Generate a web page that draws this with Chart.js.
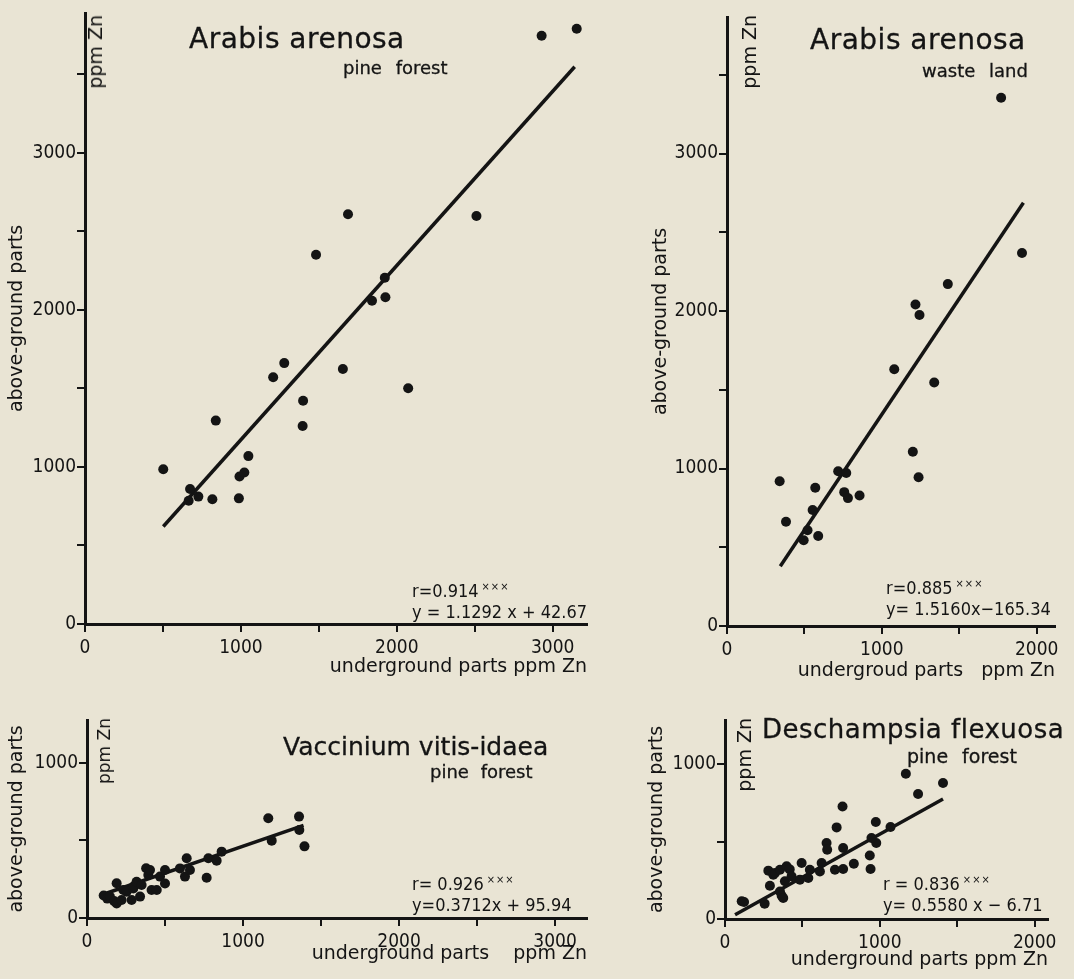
<!DOCTYPE html>
<html>
<head>
<meta charset="utf-8">
<script src="https://cdn.jsdelivr.net/npm/chart.js@4.4.0/dist/chart.umd.min.js"></script>
<style>
  body { margin:0; background:#e9e4d4; width:1074px; height:979px; overflow:hidden; position:relative;
         font-family:"DejaVu Sans", sans-serif; color:#141414; }
  canvas { position:absolute; }
  .txt { position:absolute; white-space:pre; line-height:1; -webkit-text-stroke:0.3px #141414; }
  .vert { position:absolute; writing-mode:vertical-rl; transform:rotate(180deg); line-height:19px; font-size:19px; white-space:pre; }
  .stat { position:absolute; font-family:"DejaVu Sans Condensed","DejaVu Sans",sans-serif; font-stretch:condensed;
          font-size:18px; line-height:21px; white-space:pre; }
  .stat span { font-size:11px; vertical-align:7px; letter-spacing:1px; margin-left:3px; }
</style>
</head>
<body>
<canvas id="c1" width="600" height="680" style="left:0;top:0"></canvas>
<canvas id="c2" width="430" height="690" style="left:640px;top:0"></canvas>
<canvas id="c3" width="600" height="279" style="left:0;top:700px"></canvas>
<canvas id="c4" width="430" height="279" style="left:640px;top:700px"></canvas>

<!-- panel titles and notes -->
<div class="txt" style="left:189px;top:25px;font-size:28px;letter-spacing:0.5px">Arabis arenosa</div>
<div class="txt" style="left:343px;top:59px;font-size:18px;word-spacing:8px">pine forest</div>
<div class="vert" style="left:86px;top:15px">ppm Zn</div>
<div class="stat" style="left:412px;top:576px">r=0.914<span>×××</span><br>y = 1.1292 x + 42.67</div>

<div class="txt" style="left:810px;top:26px;font-size:28px;letter-spacing:0.5px">Arabis arenosa</div>
<div class="txt" style="left:922px;top:62px;font-size:18px;word-spacing:8px">waste land</div>
<div class="vert" style="left:740px;top:15px">ppm Zn</div>
<div class="stat" style="left:886px;top:573px">r=0.885<span>×××</span><br>y= 1.5160x−165.34</div>

<div class="txt" style="left:283px;top:734px;font-size:25px">Vaccinium vitis-idaea</div>
<div class="txt" style="left:430px;top:763px;font-size:18px;word-spacing:6px">pine forest</div>
<div class="vert" style="left:96px;top:718px;font-size:17px;line-height:17px">ppm Zn</div>
<div class="stat" style="left:412px;top:869px">r= 0.926<span>×××</span><br>y=0.3712x + 95.94</div>

<div class="txt" style="left:762px;top:716px;font-size:26px;letter-spacing:0.5px">Deschampsia flexuosa</div>
<div class="txt" style="left:907px;top:747px;font-size:19px;word-spacing:8px">pine forest</div>
<div class="vert" style="left:735px;top:718px">ppm Zn</div>
<div class="stat" style="left:883px;top:869px">r = 0.836<span>×××</span><br>y= 0.5580 x − 6.71</div>

<script>
// Arabis arenosa, pine forest
var arabisPineX = [502, 674, 665, 727, 817, 839, 987, 991, 1022, 1048, 1207, 1278, 1399, 1396, 1654, 2073,
                   1482, 1687, 2511, 1841, 1927, 1923, 2929, 3154];
var arabisPineY = [985, 859, 785, 811, 794, 1295, 800, 939, 964, 1069, 1571, 1661, 1421, 1261, 1623, 1501,
                   2351, 2609, 2598, 2058, 2080, 2204, 3745, 3790];
var arabisPineLineX = [502, 3141];
var arabisPineLineY = [621, 3548];

// Arabis arenosa, waste land
var arabisWasteX = [340, 381, 570, 553, 520, 495, 589, 718, 770, 757, 781, 856, 1080, 1338, 1200, 1237,
                    1217, 1243, 1426, 1905, 1770];
var arabisWasteY = [919, 662, 878, 737, 608, 544, 572, 983, 972, 850, 812, 829, 1630, 1546, 1107, 944,
                    2042, 1975, 2171, 2369, 3354];
var arabisWasteLineX = [344, 1914];
var arabisWasteLineY = [379, 2688];

// Vaccinium vitis-idaea, pine forest
var vacciniumX = [107, 130, 147, 174, 190, 190, 222, 233, 254, 286, 297, 300, 318, 340, 350, 379, 393, 404,
                  414, 447, 468, 500, 500, 596, 628, 639, 660, 767, 778, 831, 863, 1162, 1184, 1359, 1361, 1394];
var vacciniumY = [145, 125, 138, 109, 224, 94, 116, 181, 170, 116, 191, 205, 234, 138, 213, 321, 277, 310,
                  181, 181, 267, 223, 310, 320, 267, 385, 310, 260, 385, 370, 428, 643, 499, 654, 568, 462];
var vacciniumLineX = [96, 1388];
var vacciniumLineY = [150, 598];

// Deschampsia flexuosa, pine forest
var deschampsiaX = [108, 123, 256, 290, 280, 312, 323, 355, 398, 387, 355, 366, 376, 418, 430, 484, 495, 538,
                    548, 613, 624, 656, 660, 721, 759, 710, 763, 763, 832, 935, 940, 974, 977, 946, 1069,
                    1168, 1247, 1408];
var deschampsiaY = [114, 110, 99, 215, 312, 286, 297, 318, 340, 243, 178, 150, 135, 320, 275, 254, 361, 265,
                    318, 307, 361, 490, 447, 591, 726, 318, 323, 458, 357, 410, 323, 626, 490, 523, 594,
                    937, 806, 877];
var deschampsiaLineX = [65, 1408];
var deschampsiaLineY = [28, 774];

// axis ticks (labels only on the thousands)
var ticksTo3500 = [0, 500, 1000, 1500, 2000, 2500, 3000, 3500];
var ticksTo3000 = [0, 500, 1000, 1500, 2000, 2500, 3000];
var ticksTo2000 = [0, 500, 1000, 1500, 2000];
var ticksTo1000 = [0, 500, 1000];
var labelledTicks = [0, 1000, 2000, 3000];

var INK = '#141414';
var NUM_FONT = "'DejaVu Sans Condensed', 'DejaVu Sans', sans-serif";
var TXT_FONT = "'DejaVu Sans', sans-serif";

function toPoints(xs, ys) {
    return xs.map(function(v, i) { return { x: v, y: ys[i] }; });
}

function makePanel(id, px, py, lx, ly, s) {
    var ctx = document.getElementById(id).getContext('2d');
    return new Chart(ctx, {
        type: 'scatter',
        data: {
            datasets: [{
                data: toPoints(px, py),
                pointRadius: 5,
                pointBackgroundColor: INK,
                pointBorderWidth: 0
            }, {
                data: toPoints(lx, ly),
                showLine: true,
                pointRadius: 0,
                borderColor: INK,
                borderWidth: 3.5
            }]
        },
        options: {
            responsive: false,
            animation: false,
            events: [],
            layout: { padding: { left: 0, top: s.padTop, right: s.padRight, bottom: 0 } },
            plugins: { legend: { display: false }, tooltip: { enabled: false } },
            scales: {
                x: {
                    type: 'linear',
                    min: 0,
                    max: s.xMax,
                    afterBuildTicks: function(scale) { scale.ticks = s.xTicks.map(function(v) { return { value: v }; }); },
                    afterFit: function(scale) { scale.height = s.xHeight; },
                    border: { display: true, color: INK, width: 3 },
                    grid: { drawOnChartArea: false, drawTicks: true, tickLength: 8, color: INK, lineWidth: 2 },
                    ticks: {
                        padding: 5, color: INK, maxRotation: 0, autoSkip: false,
                        font: { family: NUM_FONT, size: 19 },
                        callback: function(v) { return labelledTicks.indexOf(v) >= 0 ? String(v) : ''; }
                    },
                    title: {
                        display: true, text: s.xTitle, align: 'end', color: INK,
                        font: { family: TXT_FONT, size: 19 },
                        padding: { top: 0, bottom: s.xTitlePad }
                    }
                },
                y: {
                    type: 'linear',
                    min: 0,
                    max: s.yMax,
                    afterBuildTicks: function(scale) { scale.ticks = s.yTicks.map(function(v) { return { value: v }; }); },
                    afterFit: function(scale) { scale.width = s.yWidth; },
                    border: { display: true, color: INK, width: 3 },
                    grid: { drawOnChartArea: false, drawTicks: true, tickLength: 8, color: INK, lineWidth: 2 },
                    ticks: {
                        padding: 1, color: INK, autoSkip: false,
                        font: { family: NUM_FONT, size: 19 },
                        callback: function(v) { return labelledTicks.indexOf(v) >= 0 ? String(v) : ''; }
                    },
                    title: {
                        display: true, text: 'above-ground parts', color: INK,
                        font: { family: TXT_FONT, size: 19 },
                        padding: { top: s.yTitlePad, bottom: 0 }
                    }
                }
            }
        }
    });
}

makePanel('c1', arabisPineX, arabisPineY, arabisPineLineX, arabisPineLineY, {
    xMax: 3220, yMax: 3890, xTicks: ticksTo3000, yTicks: ticksTo3500,
    padTop: 13, padRight: 13, yWidth: 85, xHeight: 56,
    xTitle: 'underground parts ppm Zn', xTitlePad: 2, yTitlePad: 6
});
makePanel('c2', arabisWasteX, arabisWasteY, arabisWasteLineX, arabisWasteLineY, {
    xMax: 2118, yMax: 3867, xTicks: ticksTo2000, yTicks: ticksTo3500,
    padTop: 17, padRight: 15, yWidth: 87, xHeight: 64,
    xTitle: 'undergroud parts   ppm Zn', xTitlePad: 8, yTitlePad: 10
});
makePanel('c3', vacciniumX, vacciniumY, vacciniumLineX, vacciniumLineY, {
    xMax: 3205, yMax: 1277, xTicks: ticksTo3000, yTicks: ticksTo1000,
    padTop: 20, padRight: 13, yWidth: 87, xHeight: 61,
    xTitle: 'underground parts    ppm Zn', xTitlePad: 14, yTitlePad: 6
});
makePanel('c4', deschampsiaX, deschampsiaY, deschampsiaLineX, deschampsiaLineY, {
    xMax: 2086, yMax: 1284, xTicks: ticksTo2000, yTicks: ticksTo1000,
    padTop: 20, padRight: 22, yWidth: 85, xHeight: 60,
    xTitle: 'underground parts ppm Zn', xTitlePad: 8, yTitlePad: 6
});
</script>
</body>
</html>
